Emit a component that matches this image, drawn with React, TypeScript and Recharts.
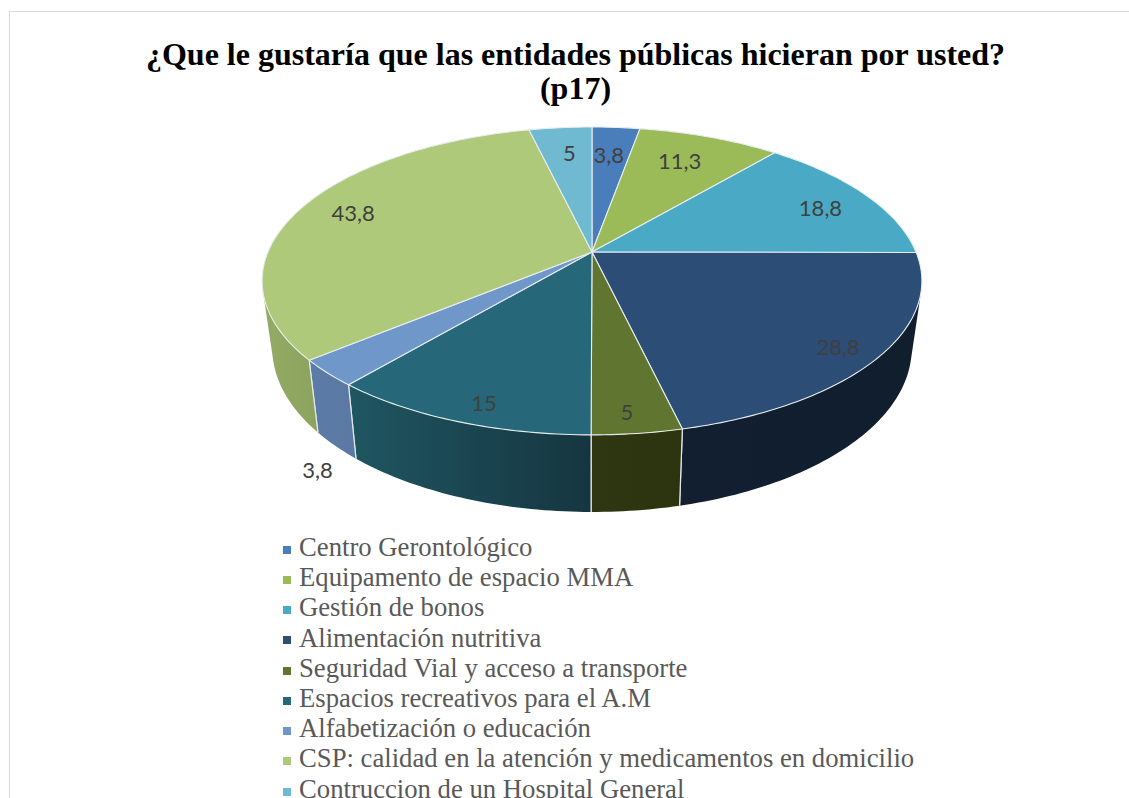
import React from "react";
import { PieChart, Pie, Legend } from "recharts";

const categories = [
  "Centro Gerontológico",
  "Equipamento de espacio MMA",
  "Gestión de bonos",
  "Alimentación nutritiva",
  "Seguridad Vial y acceso a transporte",
  "Espacios recreativos para el A.M",
  "Alfabetización o educación",
  "CSP: calidad en la atención y medicamentos en domicilio",
  "Contruccion de un Hospital General",
];
const values = [3.8, 11.3, 18.8, 28.8, 5, 15, 3.8, 43.8, 5];
const topColors = ["#4a7ebb", "#9bbb59", "#4aaac5", "#2c4d75", "#5f7530", "#26677a", "#7097c9", "#afc97a", "#6fbad0"];
const sideColorsLeft = ["#3b6596", "#7c9647", "#3b899e", "#121f30", "#2e3712", "#1f5662", "#5c7ca8", "#94ab66", "#5895a6"];
const sideColorsRight = ["#3b6596", "#7c9647", "#3b899e", "#111e2e", "#2c340f", "#153640", "#5a78a2", "#8ba35c", "#5895a6"];

// Radial placement of each value label on the top face, then a small nudge in pixels.
const labelRadius = [0.75, 0.75, 0.82, 0.9, 0.9, 0.9, 1, 0.8, 0.75];
const labelNudgeX = [-2, -4, 2, -9, -5, 11, -10, -4, 2];
const labelNudgeY = [0, -2, 3, 1, 0, 1, 97, -4, -2];

const rows = categories.map((name, i) => ({
  name,
  value: values[i],
  fill: topColors[i],
  sideLeft: sideColorsLeft[i],
  sideRight: sideColorsRight[i],
  labelRadius: labelRadius[i],
  labelNudgeX: labelNudgeX[i],
  labelNudgeY: labelNudgeY[i],
}));

// Perspective projection of a circular disc tilted away from the viewer.
const CX = 592;
const TILT = -0.188;
const TOP_PLANE = { y: 252, halfW: 324, halfH: 148.5 };
const BOTTOM_PLANE = { y: 317.4, halfW: 314, halfH: 158 };

type Plane = typeof TOP_PLANE;

function project(plane: Plane, clockDeg: number, r = 1): [number, number] {
  const t = (clockDeg * Math.PI) / 180;
  const u = Math.sin(t) * r;
  const v = -Math.cos(t) * r;
  const d = 1 + TILT * v;
  return [CX + (plane.halfW * u) / d, plane.y + (plane.halfH * v) / d];
}

const fmt = (p: [number, number]) => `${p[0].toFixed(2)} ${p[1].toFixed(2)}`;

function sweep(startAngle: number, endAngle: number): number[] {
  const a = 90 - startAngle;
  const b = 90 - endAngle;
  const n = Math.max(2, Math.ceil(Math.abs(b - a)));
  return Array.from({ length: n + 1 }, (_, i) => a + ((b - a) * i) / n);
}

function isFront(a: number, b: number): boolean {
  const q = [project(TOP_PLANE, a), project(TOP_PLANE, b), project(BOTTOM_PLANE, b), project(BOTTOM_PLANE, a)];
  let s = 0;
  for (let i = 0; i < 4; i++) {
    const [x1, y1] = q[i];
    const [x2, y2] = q[(i + 1) % 4];
    s += x1 * y2 - x2 * y1;
  }
  return s < 0;
}

function SideWall(props: any) {
  const entry = props.payload ?? props;
  const angles = sweep(props.startAngle, props.endAngle);
  const front = angles.filter((a, i) =>
    i < angles.length - 1 ? isFront(a, angles[i + 1]) : isFront(angles[i - 1], a)
  );
  if (front.length < 2) return <g />;
  const id = `wall-${categories.indexOf(entry.name)}`;
  const upper = front.map((a) => project(TOP_PLANE, a));
  const lower = front.map((a) => project(BOTTOM_PLANE, a)).reverse();
  const d = "M" + [...upper, ...lower].map(fmt).join("L") + "Z";
  const seam = (a: number) => `M${fmt(project(TOP_PLANE, a))}L${fmt(project(BOTTOM_PLANE, a))}`;
  const first = angles[0];
  const last = angles[angles.length - 1];
  return (
    <g>
      <defs>
        <linearGradient id={id} x1="0" y1="0" x2="1" y2="0">
          <stop offset="0" stopColor={entry.sideLeft} />
          <stop offset="1" stopColor={entry.sideRight} />
        </linearGradient>
      </defs>
      <path d={d} fill={`url(#${id})`} stroke="none" />
      {front[0] === first && <path d={seam(first)} stroke="#e4eaec" strokeWidth={1.2} fill="none" />}
      {front[front.length - 1] === last && <path d={seam(last)} stroke="#e4eaec" strokeWidth={1.2} fill="none" />}
    </g>
  );
}

function TopFace(props: any) {
  const pts = sweep(props.startAngle, props.endAngle).map((a) => project(TOP_PLANE, a));
  const d = `M${CX} ${TOP_PLANE.y}L` + pts.map(fmt).join("L") + "Z";
  return <path d={d} fill={props.fill} stroke="#e6ecee" strokeWidth={1.1} strokeLinejoin="round" />;
}

function ValueLabel(props: any) {
  const entry = props.payload ?? props;
  const [x, y] = project(TOP_PLANE, 90 - props.midAngle, entry.labelRadius);
  return (
    <text
      x={x + entry.labelNudgeX}
      y={y + entry.labelNudgeY}
      textAnchor="middle"
      dominantBaseline="central"
      fontFamily="Lato"
      fontSize={22}
      fill="#404040"
    >
      {String(props.value).replace(".", ",")}
    </text>
  );
}

const legendText = (value: string) => <span style={{ color: "#595959", marginLeft: 4 }}>{value}</span>;

export default function App() {
  return (
    <div style={{ position: "absolute", left: 0, top: 0, width: 1129, height: 798, overflow: "hidden", background: "#fff" }}>
      <div
        style={{
          position: "absolute",
          left: 9,
          top: 11,
          width: 1130,
          height: 800,
          borderLeft: "1.5px solid #d9d9d9",
          borderTop: "1.5px solid #d9d9d9",
        }}
      />
      <div
        style={{
          position: "absolute",
          left: 0,
          top: 37,
          width: 1151,
          textAlign: "center",
          fontFamily: "'Liberation Serif'",
          fontWeight: 700,
          fontSize: 32,
          lineHeight: "34px",
          color: "#000",
        }}
      >
        ¿Que le gustaría que las entidades públicas hicieran por usted?
        <br />
        (p17)
      </div>
      <div style={{ position: "absolute", left: 0, top: 0 }}>
        <PieChart width={1129} height={798} margin={{ top: 0, right: 0, bottom: 0, left: 0 }}>
          <Pie
            data={rows}
            dataKey="value"
            nameKey="name"
            cx={CX}
            cy={TOP_PLANE.y}
            outerRadius={TOP_PLANE.halfW}
            startAngle={90}
            endAngle={-270}
            legendType="none"
            shape={SideWall}
            isAnimationActive={false}
          />
          <Pie
            data={rows}
            dataKey="value"
            nameKey="name"
            cx={CX}
            cy={TOP_PLANE.y}
            outerRadius={TOP_PLANE.halfW}
            startAngle={90}
            endAngle={-270}
            shape={TopFace}
            label={ValueLabel}
            labelLine={false}
            isAnimationActive={false}
          />
          <Legend
            layout="vertical"
            align="left"
            verticalAlign="top"
            iconType="square"
            iconSize={8}
            itemSorter={null}
            formatter={legendText}
            wrapperStyle={{
              left: 283,
              top: 532,
              width: 800,
              fontFamily: "'Liberation Serif'",
              fontSize: 26.7,
              lineHeight: "30.2px",
            }}
          />
        </PieChart>
      </div>
    </div>
  );
}
